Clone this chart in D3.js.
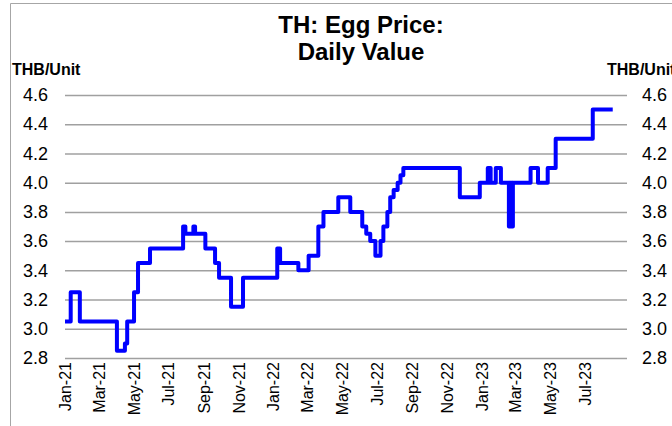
<!DOCTYPE html>
<html>
<head>
<meta charset="utf-8">
<script src="https://cdn.jsdelivr.net/npm/d3@7"></script>
<style>
  body { margin: 0; background: #fff; }
  svg { font-family: "Liberation Sans", Arial, sans-serif; }
</style>
</head>
<body>
<svg width="672" height="426"></svg>
<script>
// change points of the daily price (step series)
var dates = ["2021-01-01","2021-01-11","2021-01-27","2021-04-02","2021-04-16","2021-04-20",
  "2021-05-02","2021-05-09","2021-05-30","2021-07-27","2021-07-31","2021-08-14","2021-08-17",
  "2021-09-04","2021-09-21","2021-09-28","2021-10-19","2021-11-09","2022-01-08","2022-01-13",
  "2022-02-14","2022-03-04","2022-03-21","2022-03-30","2022-04-25","2022-05-16","2022-06-06",
  "2022-06-13","2022-06-20","2022-06-29","2022-07-08","2022-07-13","2022-07-20","2022-07-25",
  "2022-07-31","2022-08-07","2022-08-12","2022-08-17","2022-11-24","2022-12-29","2023-01-12",
  "2023-01-17","2023-01-26","2023-02-04","2023-02-18","2023-02-19","2023-02-21","2023-02-22",
  "2023-02-24","2023-02-25","2023-03-28","2023-04-10","2023-04-27","2023-05-11","2023-07-15",
  "2023-08-19"];
var prices = [3.05,3.25,3.05,2.85,2.9,3.05,
  3.25,3.45,3.55,3.7,3.65,3.7,3.65,
  3.55,3.45,3.35,3.15,3.35,3.55,3.45,
  3.4,3.5,3.7,3.8,3.9,3.8,3.7,
  3.65,3.6,3.5,3.6,3.7,3.8,3.9,
  3.95,4.0,4.05,4.1,3.9,4.0,4.1,
  4.0,4.1,4.0,3.7,4.0,3.7,4.0,
  3.7,4.0,4.1,4.0,4.1,4.3,4.5,
  4.5];
var yTicks = [2.8,3.0,3.2,3.4,3.6,3.8,4.0,4.2,4.4,4.6];
var xTicks = ["2021-01-01","2021-03-01","2021-05-01","2021-07-01","2021-09-01","2021-11-01",
  "2022-01-01","2022-03-01","2022-05-01","2022-07-01","2022-09-01","2022-11-01",
  "2023-01-01","2023-03-01","2023-05-01","2023-07-01"];
var titleLines = ["TH: Egg Price:", "Daily Value"];
var unitLabel = "THB/Unit";

var parse = d3.timeParse("%Y-%m-%d");
var data = dates.map(function (d, i) { return {date: parse(d), value: prices[i]}; });

var svg = d3.select("svg");
var plotL = 65, plotR = 627, plotT = 95, plotB = 358;

var x = d3.scaleTime()
  .domain([parse("2021-01-01"), parse("2023-09-13")])
  .range([plotL, plotR]);
var y = d3.scaleLinear().domain([2.8, 4.6]).range([plotB, plotT]);

// chart frame
svg.append("path")
  .attr("d", "M10.5,430V3.5H680")
  .attr("fill", "none")
  .attr("stroke", "#a6a6a6")
  .attr("stroke-width", 1);

// left axis with gridlines
var gy = svg.append("g")
  .attr("transform", "translate(" + plotL + ",0)")
  .call(d3.axisLeft(y).tickValues(yTicks).tickFormat(d3.format(".1f"))
    .tickSize(-(plotR - plotL)).tickPadding(17));
gy.select(".domain").remove();
gy.selectAll(".tick line").attr("stroke", "#a0a0a0").attr("stroke-width", 1.5);
gy.selectAll("text").attr("font-size", 18).attr("fill", "#000");

// right axis (labels only)
var gr = svg.append("g")
  .attr("transform", "translate(" + plotR + ",0)")
  .call(d3.axisRight(y).tickValues(yTicks).tickFormat(d3.format(".1f"))
    .tickSize(0).tickPadding(15));
gr.select(".domain").remove();
gr.selectAll("text").attr("font-size", 18).attr("fill", "#000");

// x axis labels, rotated
var gx = svg.append("g")
  .attr("transform", "translate(0," + plotB + ")")
  .call(d3.axisBottom(x).tickValues(xTicks.map(parse)).tickFormat(d3.timeFormat("%b-%y"))
    .tickSize(0).tickPadding(0));
gx.select(".domain").remove();
gx.selectAll("text")
  .attr("font-size", 16)
  .attr("fill", "#000")
  .attr("text-anchor", "end")
  .attr("transform", "rotate(-90)")
  .attr("x", -4)
  .attr("y", 0)
  .attr("dy", "0.35em");

// the price line
var line = d3.line()
  .x(function (d) { return x(d.date); })
  .y(function (d) { return y(d.value); })
  .curve(d3.curveStepAfter);

svg.append("path")
  .datum(data)
  .attr("fill", "none")
  .attr("stroke", "#0000ff")
  .attr("stroke-width", 4)
  .attr("stroke-linejoin", "round")
  .attr("d", line);

// title
svg.append("text")
  .attr("x", 361).attr("y", 33)
  .attr("text-anchor", "middle")
  .attr("font-size", 24).attr("font-weight", "bold")
  .selectAll("tspan")
  .data(titleLines)
  .enter()
  .append("tspan")
  .attr("x", 361)
  .attr("dy", function (d, i) { return i ? 27 : 0; })
  .text(function (d) { return d; });

// unit labels (the right one runs off the edge, as in the original)
svg.append("text")
  .attr("x", 12).attr("y", 75)
  .attr("font-size", 16).attr("font-weight", "bold")
  .text(unitLabel);
svg.append("text")
  .attr("x", 607).attr("y", 75)
  .attr("font-size", 16).attr("font-weight", "bold")
  .text(unitLabel);
</script>
</body>
</html>
